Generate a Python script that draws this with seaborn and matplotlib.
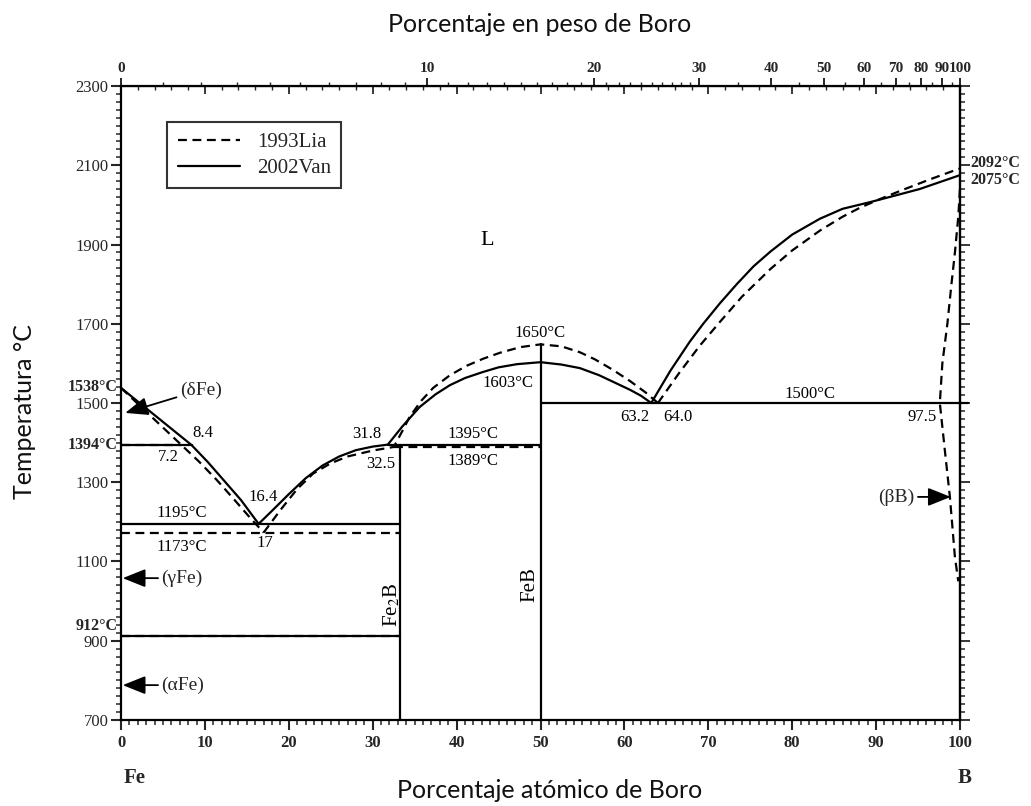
import numpy as np
import pandas as pd
import matplotlib
matplotlib.use("Agg")
import matplotlib.pyplot as plt
from matplotlib.ticker import MultipleLocator, FixedLocator
from matplotlib.lines import Line2D
import matplotlib.transforms as mtransforms
import seaborn as sns

# ---------------- data ----------------
# 2002Van (solid)
van_fe_liq_at = [0, 4.2, 8.4, 10.3, 12.2, 14.3, 16.4]
van_fe_liq_T = [1538, 1466, 1394, 1352, 1306, 1255, 1195]
van_fe2b_at = [16.4, 18, 20, 22, 24, 26, 28, 30, 31.8, 33.5, 35.6, 37.5, 39.2, 41, 43.1,
               45, 47.2, 50, 52.5, 54.7, 57, 59, 60.7, 62, 63.2]
van_fe2b_T = [1195, 1228, 1270, 1310, 1342, 1365, 1381, 1390, 1395, 1440, 1490, 1522, 1545,
              1563, 1578, 1590, 1598, 1603, 1597, 1588, 1570, 1550, 1533, 1518, 1500]
van_b_liq_at = [63.2, 65.5, 67.8, 69.4, 71.4, 73.4, 75.4, 77.4, 80, 83.3, 86, 89.3, 92, 95.2, 100]
van_b_liq_T = [1500, 1582, 1655, 1700, 1752, 1800, 1845, 1882, 1925, 1965, 1990, 2007, 2022,
               2040, 2075]

# 1993Lia (dashed)
lia_fe_liq_at = [0, 3.6, 7.2, 9.3, 11.4, 13.5, 15.4, 17]
lia_fe_liq_T = [1538, 1466, 1394, 1352, 1306, 1256, 1210, 1173]
lia_fe2b_at = [17, 19, 21, 22.9, 25, 27, 30, 32.5, 33.5, 34.4, 35.8, 37.2, 39.2, 41.2, 43.2,
               45.2, 47.6, 50, 52.5, 54.7, 56.5, 58.6, 60.7, 62.5, 64]
lia_fe2b_T = [1173, 1230, 1283, 1322, 1348, 1365, 1380, 1389, 1428, 1465, 1506, 1538, 1570,
              1594, 1612, 1627, 1641, 1648, 1643, 1628, 1610, 1584, 1555, 1527, 1500]
lia_b_liq_at = [64, 66.5, 69, 71.4, 74, 77.4, 80, 83.3, 86, 88.1, 90.5, 93.2, 96.5, 100]
lia_b_liq_T = [1500, 1575, 1645, 1705, 1768, 1838, 1885, 1935, 1970, 1993, 2015, 2038, 2065,
               2092]
lia_bb_at = [100, 99.8, 99.4, 99.0, 98.5, 97.9, 97.6, 98.2, 98.8, 99.4, 99.8]
lia_bb_T = [2040, 1970, 1880, 1803, 1700, 1600, 1500, 1380, 1263, 1111, 1050]

# isotherms / compound lines: (source, at list, T list)
lines_fixed = [
    ("2002Van", [0, 8.4], [1394, 1394]),
    ("2002Van", [0, 33.3], [1195, 1195]),
    ("2002Van", [0, 33.3], [912, 912]),
    ("2002Van", [31.8, 50], [1395, 1395]),
    ("2002Van", [50, 101], [1500, 1500]),
    ("2002Van", [33.3, 33.3], [700, 1395]),
    ("2002Van", [50, 50], [700, 1650]),
    ("1993Lia", [0, 7.2], [1394, 1394]),
    ("1993Lia", [0, 33.3], [1173, 1173]),
    ("1993Lia", [32.5, 50], [1389, 1389]),
    ("1993Lia", [0, 33.3], [912, 912]),
]

bottom_ticks = [0, 10, 20, 30, 40, 50, 60, 70, 80, 90, 100]
left_ticks = [700, 900, 1100, 1300, 1500, 1700, 1900, 2100, 2300]
top_wt_ticks = [0, 10, 20, 30, 40, 50, 60, 70, 80, 90, 100]

# ---------------- build table ----------------
rows = []
def add(name, src, xs, ys):
    for i, (x, y) in enumerate(zip(xs, ys)):
        rows.append(dict(curve=name, source=src, at=x, T=y, order=i))

add("van_fe", "2002Van", van_fe_liq_at, van_fe_liq_T)
add("van_fe2b", "2002Van", van_fe2b_at, van_fe2b_T)
add("van_b", "2002Van", van_b_liq_at, van_b_liq_T)
add("lia_fe", "1993Lia", lia_fe_liq_at, lia_fe_liq_T)
add("lia_fe2b", "1993Lia", lia_fe2b_at, lia_fe2b_T)
add("lia_b", "1993Lia", lia_b_liq_at, lia_b_liq_T)
add("lia_bb", "1993Lia", lia_bb_at, lia_bb_T)
for k, (src, xs, ys) in enumerate(lines_fixed):
    add(f"fix{k}", src, xs, ys)
df = pd.DataFrame(rows)

# ---------------- figure ----------------
sns.set_style("white")
plt.rcParams["font.family"] = ["Liberation Serif", "DejaVu Serif"]
plt.rcParams["mathtext.fontset"] = "stix"

fig = plt.figure(figsize=(10.31, 8.06), dpi=100)
ax = fig.add_axes([0.1174, 0.1067, 0.8137, 0.7866])

sns.lineplot(data=df, x="at", y="T", units="curve", estimator=None, sort=False,
             style="source", dashes={"2002Van": "", "1993Lia": (4, 2.5)},
             color="black", linewidth=1.6, legend=False, ax=ax)
for ln in ax.lines:
    ln.set_clip_on(False)

ax.set_xlim(0, 100)
ax.set_ylim(700, 2300)
ax.set_xlabel("")
ax.set_ylabel("")
for s in ax.spines.values():
    s.set_linewidth(1.6)
    s.set_color("black")

ax.xaxis.set_major_locator(FixedLocator(bottom_ticks))
ax.xaxis.set_minor_locator(MultipleLocator(1))
ax.yaxis.set_major_locator(FixedLocator(left_ticks))
ax.yaxis.set_minor_locator(MultipleLocator(20))
ax.tick_params(which="major", direction="out", length=7, width=1.5, labelsize=12,
               bottom=True, left=True, top=False, right=False)
ax.tick_params(which="minor", direction="out", length=3.5, width=1.1,
               bottom=True, left=True, top=False, right=False)
for lab in ax.get_xticklabels():
    lab.set_fontweight("bold")
ax.tick_params(axis="x", pad=4)
ax.tick_params(axis="y", pad=2)

# right spine ticks
secr = ax.secondary_yaxis("right")
secr.yaxis.set_major_locator(FixedLocator(left_ticks))
secr.yaxis.set_minor_locator(MultipleLocator(20))
secr.tick_params(which="major", direction="out", length=7, width=1.3, labelright=False)
secr.tick_params(which="minor", direction="out", length=3.5, width=1.1)
secr.spines["right"].set_linewidth(1.6)

# top: inward atomic-% ticks
sect_in = ax.secondary_xaxis("top")
sect_in.xaxis.set_major_locator(FixedLocator(bottom_ticks))
sect_in.xaxis.set_minor_locator(MultipleLocator(2))
sect_in.tick_params(which="major", direction="in", length=6, width=1.3, labeltop=False)
sect_in.tick_params(which="minor", direction="in", length=3, width=1.0)

# top: weight-% scale
def at2wt(a):
    a = np.asarray(a, dtype=float)
    with np.errstate(divide="ignore", invalid="ignore"):
        return 100 * a * 10.81 / (a * 10.81 + (100 - a) * 55.845)

def wt2at(w):
    w = np.asarray(w, dtype=float)
    with np.errstate(divide="ignore", invalid="ignore"):
        return 100 * (w / 10.81) / ((w / 10.81) + (100 - w) / 55.845)

secw = ax.secondary_xaxis("top", functions=(at2wt, wt2at))
secw.xaxis.set_major_locator(FixedLocator(top_wt_ticks))
secw.xaxis.set_minor_locator(FixedLocator(list(range(1, 30)) + list(range(35, 100, 5))))
secw.tick_params(which="major", direction="out", length=6, width=1.4, labelsize=11, pad=2)
secw.tick_params(which="minor", direction="out", length=3, width=1.0)
for lab in secw.get_xticklabels():
    lab.set_fontweight("bold")

# ---------------- annotations ----------------
tk = dict(color="black")
ax.text(43.6, 1911, "L", fontsize=16, ha="center", va="center", **tk)
ax.text(50, 1677, "1650°C", fontsize=12, ha="center", va="center", **tk)
ax.text(46.1, 1550, "1603°C", fontsize=12, ha="center", va="center", **tk)
ax.text(29.3, 1421, "31.8", fontsize=12, ha="center", va="center", **tk)
ax.text(42.0, 1421, "1395°C", fontsize=12, ha="center", va="center", **tk)
ax.text(42.0, 1353, "1389°C", fontsize=12, ha="center", va="center", **tk)
ax.text(30.9, 1345, "32.5", fontsize=12, ha="center", va="center", **tk)
ax.text(9.8, 1424, "8.4", fontsize=12, ha="center", va="center", **tk)
ax.text(5.6, 1363, "7.2", fontsize=12, ha="center", va="center", **tk)
ax.text(16.9, 1262, "16.4", fontsize=12, ha="center", va="center", **tk)
ax.text(17.2, 1147, "17", fontsize=12, ha="center", va="center", **tk)
ax.text(7.2, 1222, "1195°C", fontsize=12, ha="center", va="center", **tk)
ax.text(7.2, 1137, "1173°C", fontsize=12, ha="center", va="center", **tk)
ax.text(61.3, 1465, "63.2", fontsize=12, ha="center", va="center", **tk)
ax.text(66.4, 1465, "64.0", fontsize=12, ha="center", va="center", **tk)
ax.text(82.1, 1522, "1500°C", fontsize=12, ha="center", va="center", **tk)
ax.text(95.5, 1465, "97.5", fontsize=12, ha="center", va="center", **tk)
ax.text(32.3, 990, "Fe$_2$B", fontsize=15, ha="center", va="center", rotation=90, **tk)
ax.text(48.7, 1041, "FeB", fontsize=15, ha="center", va="center", rotation=90, **tk)

arrow = dict(arrowstyle="-|>,head_length=1.0,head_width=0.4", color="black", lw=1.3,
             shrinkA=0, shrinkB=0)
ax.annotate("(δFe)", xy=(0.5, 1475), xytext=(7.0, 1533), fontsize=14, ha="left",
            va="center", arrowprops=arrow)
ax.annotate("(γFe)", xy=(0.2, 1058), xytext=(4.8, 1058), fontsize=14, ha="left",
            va="center", arrowprops=arrow)
ax.annotate("(αFe)", xy=(0.2, 788), xytext=(4.8, 788), fontsize=14, ha="left",
            va="center", arrowprops=arrow)
ax.annotate("(βB)", xy=(98.9, 1263), xytext=(94.6, 1263), fontsize=14, ha="right",
            va="center", arrowprops=arrow)

trL = mtransforms.blended_transform_factory(ax.transAxes, ax.transData)
ax.text(-0.004, 1540, "1538°C", transform=trL, ha="right", va="center", fontsize=11.5,
        fontweight="bold")
ax.text(-0.004, 1394, "1394°C", transform=trL, ha="right", va="center", fontsize=11.5,
        fontweight="bold")
ax.text(-0.004, 937, "912°C", transform=trL, ha="right", va="center", fontsize=11.5,
        fontweight="bold")
ax.text(1.012, 2105, "2092°C", transform=trL, ha="left", va="center", fontsize=11.5,
        fontweight="bold")
ax.text(1.012, 2063, "2075°C", transform=trL, ha="left", va="center", fontsize=11.5,
        fontweight="bold")

fig.text(135 / 1031, 1 - 778 / 806, "Fe", fontsize=15, fontweight="bold", ha="center",
         va="center")
fig.text(965 / 1031, 1 - 778 / 806, "B", fontsize=15, fontweight="bold", ha="center",
         va="center")

# legend
handles = [Line2D([], [], color="black", lw=1.6, dashes=(4, 2.5)),
           Line2D([], [], color="black", lw=1.6)]
leg = ax.legend(handles, ["1993Lia", "2002Van"], loc="upper left",
                bbox_to_anchor=(0.055, 0.943), borderaxespad=0, fontsize=15, frameon=True,
                fancybox=False, edgecolor="black", handlelength=3.0, borderpad=0.5,
                labelspacing=0.3, handletextpad=0.8)
leg.get_frame().set_linewidth(1.5)

# axis titles (sans)
sans = ["Lato", "DejaVu Sans"]
fig.text(550 / 1031, 1 - 790 / 806, "Porcentaje atómico de Boro", family=sans,
         fontsize=18, ha="center", va="center", color="#111111")
fig.text(540 / 1031, 1 - 24 / 806, "Porcentaje en peso de Boro", family=sans,
         fontsize=18, ha="center", va="center", color="#111111")
fig.text(25 / 1031, 1 - 412 / 806, "Temperatura °C", family=sans, fontsize=18,
         ha="center", va="center", rotation=90, color="#111111")

fig.savefig("out.png", dpi=100, facecolor="white")
